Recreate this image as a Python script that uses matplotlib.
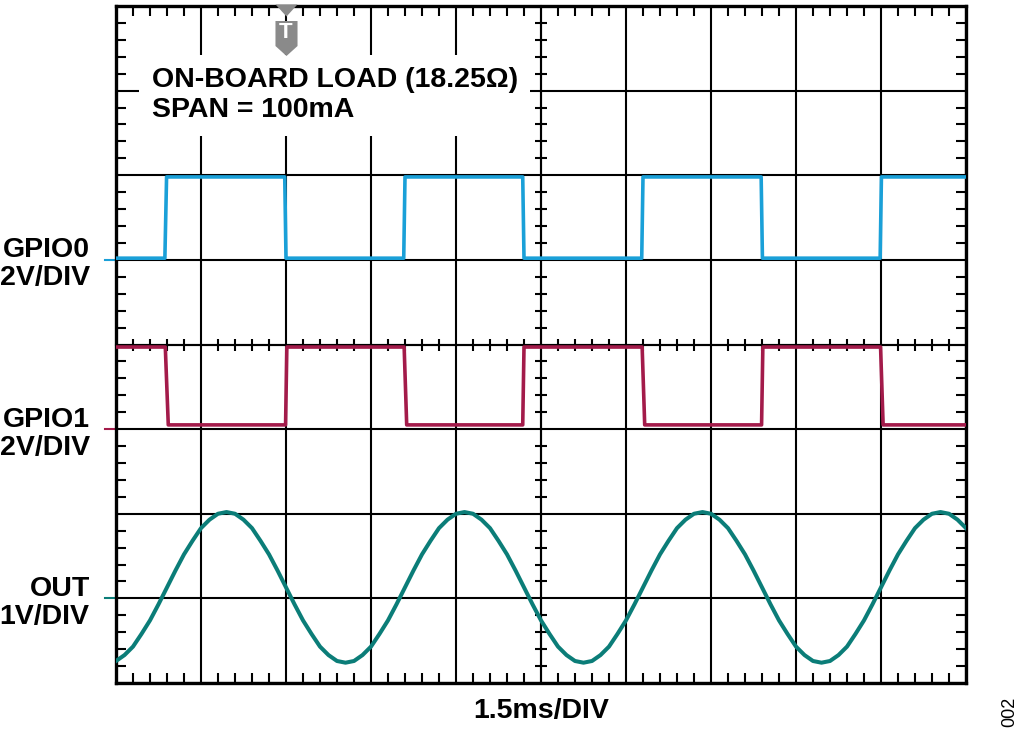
import numpy as np
import matplotlib.pyplot as plt
from matplotlib.ticker import MultipleLocator, NullFormatter
from matplotlib.path import Path

plt.rcParams['font.family'] = ['Liberation Sans', 'DejaVu Sans']

# screen is 10 x 8 divisions, 1.5ms/DIV
n_xdiv = 10
n_ydiv = 8

# OUT trace (divisions), sampled every 0.1 div
out_t = np.round(np.arange(0, 10.001, 0.1), 2)
out_v = [0.26, 0.33, 0.43, 0.58, 0.74, 0.93, 1.13, 1.33, 1.52, 1.68,
         1.83, 1.93, 2.00, 2.02, 2.00, 1.93, 1.83, 1.68, 1.52, 1.33,
         1.13, 0.93, 0.74, 0.58, 0.43, 0.33, 0.26, 0.24,
         0.26, 0.33, 0.43, 0.58, 0.74, 0.93, 1.13, 1.33, 1.52, 1.68,
         1.83, 1.93, 2.00, 2.02, 2.00, 1.93, 1.83, 1.68, 1.52, 1.33,
         1.13, 0.93, 0.74, 0.58, 0.43, 0.33, 0.26, 0.24,
         0.26, 0.33, 0.43, 0.58, 0.74, 0.93, 1.13, 1.33, 1.52, 1.68,
         1.83, 1.93, 2.00, 2.02, 2.00, 1.93, 1.83, 1.68, 1.52, 1.33,
         1.13, 0.93, 0.74, 0.58, 0.43, 0.33, 0.26, 0.24,
         0.26, 0.33, 0.43, 0.58, 0.74, 0.93, 1.13, 1.33, 1.52, 1.68,
         1.83, 1.93, 2.00, 2.02, 2.00, 1.93, 1.83]

# GPIO0 square wave
gpio0_t = [0, 0.575, 0.595, 1.985, 2.0, 3.385, 3.40, 4.785, 4.80,
           6.185, 6.20, 7.59, 7.605, 8.99, 9.005, 10]
gpio0_v = [5.02, 5.02, 5.98, 5.98, 5.02, 5.02, 5.98, 5.98, 5.02,
           5.02, 5.98, 5.98, 5.02, 5.02, 5.98, 5.98]

# GPIO1 square wave (inverted)
gpio1_t = [0, 0.58, 0.615, 1.995, 2.01, 3.39, 3.42, 4.785, 4.80,
           6.19, 6.22, 7.595, 7.61, 8.995, 9.025, 10]
gpio1_v = [3.97, 3.97, 3.05, 3.05, 3.97, 3.97, 3.05, 3.05, 3.97,
           3.97, 3.05, 3.05, 3.97, 3.97, 3.05, 3.05]

# ground reference levels
gnd_levels = [5.0, 3.0, 1.0]
colors = ['#1aa0d8', '#a31b4a', '#0b7d78']
ch_names = ['GPIO0', 'GPIO1', 'OUT']
ch_scales = ['2V/DIV', '2V/DIV', '1V/DIV']
trigger_t = 2.0

fig = plt.figure(figsize=(10.24, 7.35), dpi=100)
rect = [116 / 1024, 52 / 735, 850 / 1024, 677 / 735]

# centre cross with its own ticks
ax0 = fig.add_axes(rect)
ax0.set_xlim(0, n_xdiv)
ax0.set_ylim(0, n_ydiv)
for s in ['top', 'right']:
    ax0.spines[s].set_visible(False)
ax0.spines['left'].set_position(('data', n_xdiv / 2))
ax0.spines['bottom'].set_position(('data', n_ydiv / 2))
for s in ['left', 'bottom']:
    ax0.spines[s].set_linewidth(1.5)
for a in [ax0.xaxis, ax0.yaxis]:
    a.set_major_locator(MultipleLocator(1))
    a.set_minor_locator(MultipleLocator(0.2))
    a.set_major_formatter(NullFormatter())
ax0.tick_params(which='major', length=0)
ax0.tick_params(which='minor', direction='inout', length=9, width=1.5)
ax0.set_zorder(0)

ax = fig.add_axes(rect)
ax.set_zorder(1)
ax.patch.set_visible(False)
ax.set_xlim(0, n_xdiv)
ax.set_ylim(0, n_ydiv)
for s in ax.spines.values():
    s.set_linewidth(2.4)
for a in [ax.xaxis, ax.yaxis]:
    a.set_major_locator(MultipleLocator(1))
    a.set_minor_locator(MultipleLocator(0.2))
    a.set_major_formatter(NullFormatter())
ax.tick_params(which='major', length=0)
ax.tick_params(which='minor', direction='in', length=7, width=1.5,
               top=True, right=True)
ax.set_axisbelow(True)
ax.grid(True, which='major', color='black', linewidth=1.5)

ax.plot(gpio0_t, gpio0_v, color=colors[0], lw=2.6, zorder=3)
ax.plot(gpio1_t, gpio1_v, color=colors[1], lw=2.6, zorder=3)
ax.plot(out_t, out_v, color=colors[2], lw=2.9, zorder=3)

# ground markers + channel labels
for g, c, name, sc in zip(gnd_levels, colors, ch_names, ch_scales):
    ax.plot([-0.13, 0], [g, g], color=c, lw=1.5, clip_on=False)
    ax.text(-0.31, g + 0.03, name, ha='right', va='baseline',
            fontsize=20.5, fontweight='bold')
    ax.text(-0.31, g - 0.30, sc, ha='right', va='baseline',
            fontsize=20.5, fontweight='bold')

# annotation box
ax.text(0.42, 6.688, 'ON-BOARD LOAD (18.25Ω)\nSPAN = 100mA', ha='left',
        va='baseline', fontsize=20.5, fontweight='bold', linespacing=1.19,
        bbox=dict(facecolor='white', edgecolor='none', pad=9), zorder=5)

# trigger marker
tri = Path([(-1, 0.55), (1, 0.55), (0, -0.55), (-1, 0.55)])
pent = Path([(-0.63, 1), (0.63, 1), (0.63, -0.43), (0, -1),
             (-0.63, -0.43), (-0.63, 1)])
ax.plot([trigger_t], [7.947], marker=tri, ms=15.8, color='#8a8a8a',
        mec='none', clip_on=False, zorder=6)
ax.plot([trigger_t], [7.622], marker=pent, ms=25.2, color='#8a8a8a',
        mec='none', clip_on=False, zorder=6)
ax.text(trigger_t, 7.681, 'T', color='white', fontsize=16,
        fontweight='bold', ha='center', va='center', zorder=7)

ax.text(n_xdiv / 2, -0.413, '1.5ms/DIV', ha='center', va='baseline',
        fontsize=20.5, fontweight='bold')
fig.text(1010 / 1024, 1 - 712 / 735, '002', rotation=90, ha='center',
         va='center', fontsize=13)

fig.savefig('out.png', dpi=100)
